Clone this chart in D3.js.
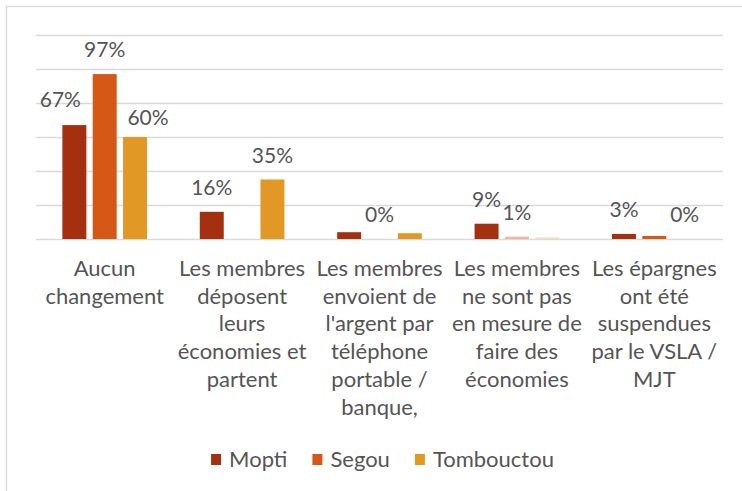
<!DOCTYPE html>
<meta charset="utf-8">
<style>
    body { margin: 0; background: #fff; }
    text { font-family: Lato, "Open Sans", sans-serif; fill: #555; }
    .grid line { stroke: #d9d9d9; stroke-width: 1.5; }
</style>
<svg width="742" height="491"></svg>
<script src="https://cdn.jsdelivr.net/npm/d3@7/dist/d3.min.js"></script>
<script>
    // categories (line breaks as in the chart)
    var categories = [
        "Aucun\nchangement",
        "Les membres\ndéposent\nleurs\néconomies et\npartent",
        "Les membres\nenvoient de\nl'argent par\ntéléphone\nportable /\nbanque,",
        "Les membres\nne sont pas\nen mesure de\nfaire des\néconomies",
        "Les épargnes\nont été\nsuspendues\npar le VSLA /\nMJT"
    ];
    var seriesNames = ["Mopti", "Segou", "Tombouctou"];

    // values in %
    var mopti = [67, 16, 4, 9, 3];
    var segou = [97, 0, 0, 1.4, 1.8];
    var tombouctou = [60, 35, 3.4, 1, 0];

    // data labels shown on the chart (null = no label)
    var moptiLabels = ["67%", "16%", null, "9%", "3%"];
    var segouLabels = ["97%", null, "0%", "1%", null];
    var tombouctouLabels = ["60%", "35%", null, null, "0%"];

    var yTicks = [0, 20, 40, 60, 80, 100, 120];

    var colors = ["#a5300f", "#d55816", "#e19825"];
    var fadedColors = ["#e6b3a0", "#eeb8a0", "#f6e0b8"];
    // points drawn faded in the original: [series, category]
    var faded = [[1, 3], [2, 3]];
    // hand-moved labels in the original: [series, category, dx, dy]
    var nudges = [[0, 0, -14, -1], [2, 0, 13, 5]];

    var svg = d3.select('svg');
    var plot = { left: 36, right: 723, top: 35, bottom: 239 };

    // chart border
    svg.append('rect')
        .attr('x', 6.5).attr('y', 6.5)
        .attr('width', 800).attr('height', 600)
        .attr('fill', 'none')
        .attr('stroke', '#d9d9d9')
        .attr('stroke-width', 1.3);

    var x0 = d3.scaleBand().domain(d3.range(categories.length))
        .range([plot.left, plot.right]).paddingInner(0.384).paddingOuter(0.192);
    var x1 = d3.scaleBand().domain(d3.range(seriesNames.length))
        .range([0, x0.bandwidth()]).paddingInner(0.21);
    var y = d3.scaleLinear().domain([0, 120]).range([plot.bottom, plot.top]);

    svg.append('g').attr('class', 'grid')
        .selectAll('line').data(yTicks).enter().append('line')
        .attr('x1', plot.left).attr('x2', plot.right)
        .attr('y1', d => Math.round(y(d)) + 0.5)
        .attr('y2', d => Math.round(y(d)) + 0.5);

    var values = [mopti, segou, tombouctou];
    var labels = [moptiLabels, segouLabels, tombouctouLabels];
    var rows = [];
    values.forEach(function (vals, s) {
        vals.forEach(function (v, c) {
            var isFaded = faded.some(f => f[0] === s && f[1] === c);
            var n = nudges.find(f => f[0] === s && f[1] === c) || [0, 0, 0, 0];
            rows.push({ s: s, c: c, v: v, label: labels[s][c], faded: isFaded, dx: n[2], dy: n[3] });
        });
    });

    svg.append('g').selectAll('rect')
        .data(rows.filter(d => d.v > 0)).enter().append('rect')
        .attr('x', d => x0(d.c) + x1(d.s))
        .attr('y', d => y(d.v))
        .attr('width', x1.bandwidth())
        .attr('height', d => y(0) - y(d.v))
        .attr('fill', d => d.faded ? fadedColors[d.s] : colors[d.s]);

    svg.append('g').selectAll('text')
        .data(rows.filter(d => d.label)).enter().append('text')
        .attr('x', d => x0(d.c) + x1(d.s) + x1.bandwidth() / 2 + d.dx)
        .attr('y', d => y(d.v) - 17 + d.dy)
        .attr('text-anchor', 'middle')
        .style('font-size', '21px')
        .text(d => d.label);

    // category axis labels
    var cat = svg.append('g').selectAll('text')
        .data(categories).enter().append('text')
        .attr('text-anchor', 'middle')
        .style('font-size', '22px')
        .attr('x', (d, i) => x0(i) + x0.bandwidth() / 2)
        .attr('y', 276);
    cat.selectAll('tspan')
        .data(d => d.split('\n')).enter().append('tspan')
        .attr('x', function () { return this.parentNode.getAttribute('x'); })
        .attr('dy', (d, i) => i === 0 ? 0 : 27.7)
        .text(d => d);

    // legend
    var legend = svg.append('g');
    var pos = 0;
    seriesNames.forEach(function (name, i) {
        var item = legend.append('g').attr('transform', 'translate(' + pos + ',0)');
        item.append('rect').attr('x', 0).attr('y', 454).attr('width', 10).attr('height', 11)
            .attr('fill', colors[i]);
        var t = item.append('text').attr('x', 18).attr('y', 467)
            .style('font-size', '22px').text(name);
        pos += 18 + t.node().getComputedTextLength() + 25;
    });
    var legendWidth = pos - 25;
    legend.attr('transform', 'translate(' + (382.5 - legendWidth / 2) + ',0)');
</script>
